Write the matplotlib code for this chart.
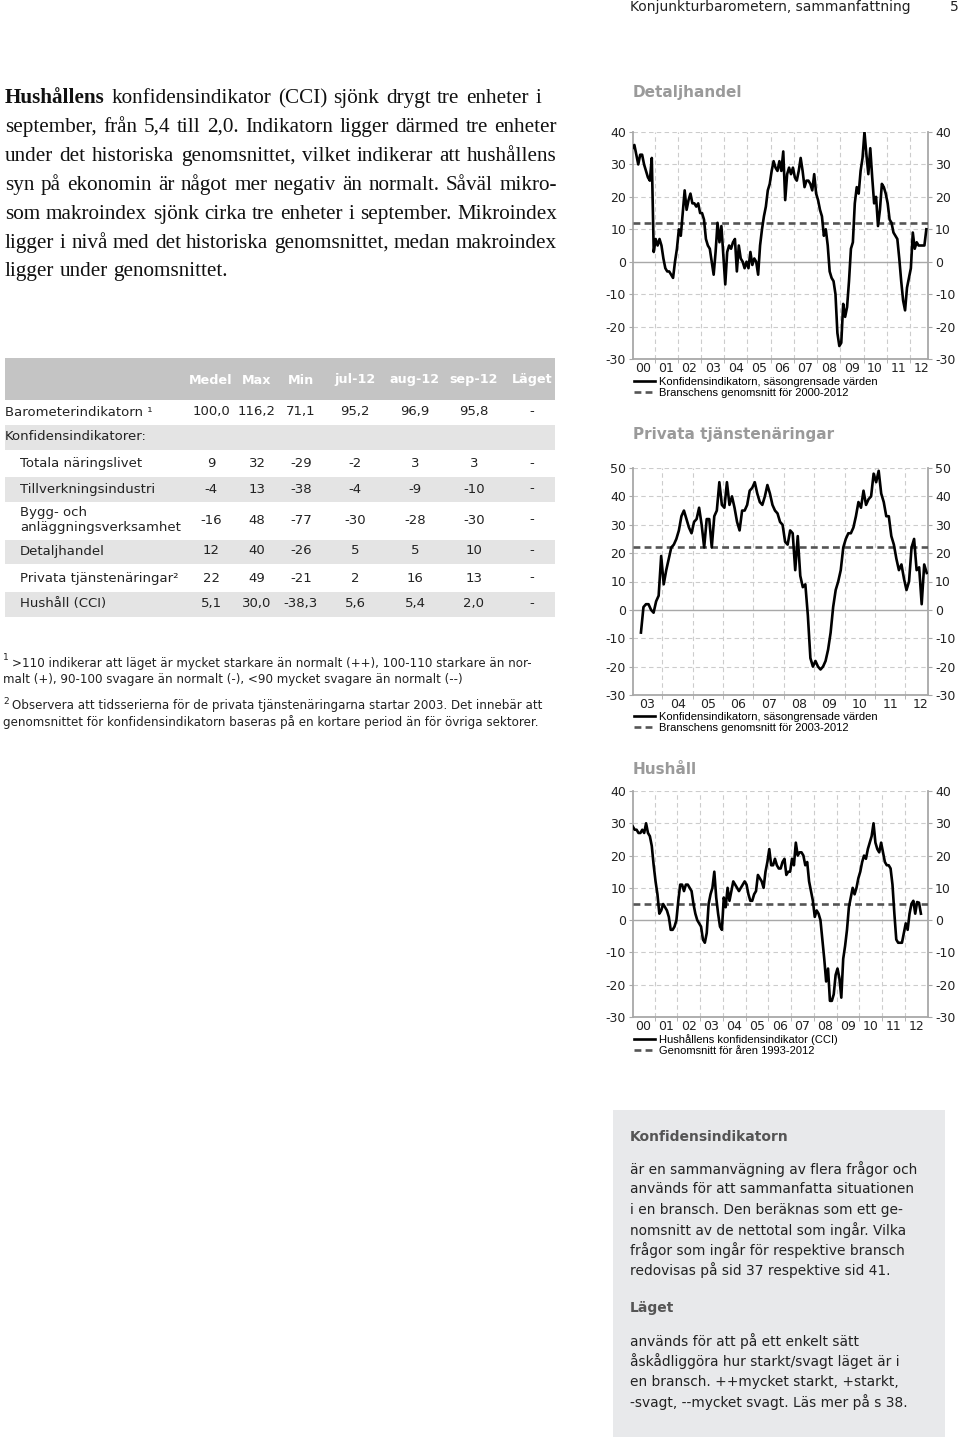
import numpy as np
import matplotlib
matplotlib.use("Agg")
from matplotlib import pyplot as plt
from matplotlib.patches import Rectangle

W, H = 960, 1443

# ---- data ----
# Detaljhandel, monthly jan 2000 - sep 2012
detalj_start = (2000, 1)
detalj = [
    35, 36, 33, 30, 33, 33, 30, 28, 26, 25, 32, 3,      # 2000
    7, 5, 7, 5, 1, -2, -3, -3, -4, -5, 0, 4,            # 2001
    10, 8, 15, 22, 16, 19, 21, 18, 18, 17, 18, 15,      # 2002
    15, 13, 7, 5, 4, 0, -4, 3, 12, 6, 11, 2,            # 2003
    -7, 3, 5, 4, 6, 7, -3, 5, 1, 0, -2, 0,              # 2004
    -2, 3, -1, 1, 0, -4, 5, 10, 14, 17, 22, 24,         # 2005
    28, 31, 29, 28, 31, 28, 34, 19, 27, 29, 27, 29,     # 2006
    26, 25, 28, 32, 28, 23, 25, 25, 24, 22, 27, 21,     # 2007
    19, 16, 14, 8, 10, 5, -3, -5, -6, -10, -22, -26,    # 2008
    -25, -13, -17, -14, -6, 4, 6, 18, 23, 21, 28, 32,   # 2009
    40, 33, 27, 35, 26, 18, 20, 11, 16, 24, 23, 21,     # 2010
    18, 13, 12, 9, 8, 7, 1, -6, -12, -15, -8, -5,       # 2011
    -2, 9, 4, 6, 5, 5, 5, 5, 10,                        # 2012
]
detalj_avg = 12

# Privata tjänstenäringar, monthly apr 2003 - sep 2012
priv_start = (2003, 4)
priv = [
    -8, 1, 2, 2, 0, -1, 3, 5, 19,                       # 2003
    9, 14, 18, 22, 23, 25, 28, 33, 35, 32, 29, 27,      # 2004
    31, 32, 36, 30, 22, 32, 32, 22, 33, 35, 45, 37,     # 2005
    36, 45, 37, 40, 36, 31, 28, 35, 35, 37, 42, 43,     # 2006
    45, 41, 38, 37, 40, 44, 41, 37, 35, 34, 31, 30,     # 2007
    24, 23, 28, 27, 14, 26, 12, 8, 9, -2, -17, -20,     # 2008
    -18, -20, -21, -20, -18, -14, -8, 1, 7, 10, 14, 22, # 2009
    25, 27, 27, 29, 33, 38, 36, 42, 37, 39, 40, 48,     # 2010
    45, 49, 41, 38, 33, 33, 26, 23, 18, 14, 16, 11,     # 2011
    7, 10, 22, 25, 14, 15, 2, 16, 13,                   # 2012
]
priv_avg = 22

# Hushåll (CCI), monthly jan 2000 - sep 2012
hush_start = (2000, 1)
hush = [
    29, 28, 28, 27, 27, 28, 27, 30, 27, 26, 23, 17,     # 2000
    12, 8, 2, 3, 5, 4, 3, 1, -3, -3, -2, 0,             # 2001
    6, 11, 11, 9, 11, 11, 10, 9, 5, 2, 0, -1,           # 2002
    -2, -6, -7, -4, 5, 8, 10, 15, 7, 2, -2, -3,         # 2003
    7, 4, 10, 6, 9, 12, 11, 10, 9, 10, 11, 12,          # 2004
    11, 8, 6, 6, 8, 9, 14, 13, 12, 10, 15, 18,          # 2005
    22, 17, 17, 19, 17, 16, 16, 18, 19, 14, 15, 15,     # 2006
    19, 17, 24, 20, 21, 21, 20, 17, 18, 12, 9, 6,       # 2007
    1, 3, 2, 0, -6, -12, -19, -15, -25, -25, -23, -17,  # 2008
    -15, -18, -24, -12, -8, -3, 4, 7, 10, 8, 10, 13,    # 2009
    15, 18, 20, 19, 22, 24, 26, 30, 24, 22, 21, 24,     # 2010
    21, 18, 17, 17, 16, 11, 2, -6, -7, -7, -7, -4,      # 2011
    -1, -3, 2, 5, 6, 2, 5.6, 5.4, 2.0,                  # 2012
]
hush_avg = 5.1

# table
col_heads = ["Medel", "Max", "Min", "jul-12", "aug-12", "sep-12", "Läget"]
row_names = ["Barometerindikatorn \u00b9", "Konfidensindikatorer:", "Totala näringslivet",
             "Tillverkningsindustri", "Bygg- och\nanläggningsverksamhet", "Detaljhandel",
             "Privata tjänstenäringar\u00b2", "Hushåll (CCI)"]
row_vals = [
    ["100,0", "116,2", "71,1", "95,2", "96,9", "95,8", "-"],
    [],
    ["9", "32", "-29", "-2", "3", "3", "-"],
    ["-4", "13", "-38", "-4", "-9", "-10", "-"],
    ["-16", "48", "-77", "-30", "-28", "-30", "-"],
    ["12", "40", "-26", "5", "5", "10", "-"],
    ["22", "49", "-21", "2", "16", "13", "-"],
    ["5,1", "30,0", "-38,3", "5,6", "5,4", "2,0", "-"],
]

paragraph = [
    "konfidensindikator (CCI) sjönk drygt tre enheter i",
    "september, från 5,4 till 2,0. Indikatorn ligger därmed tre enheter",
    "under det historiska genomsnittet, vilket indikerar att hushållens",
    "syn på ekonomin är något mer negativ än normalt. Såväl mikro-",
    "som makroindex sjönk cirka tre enheter i september. Mikroindex",
    "ligger i nivå med det historiska genomsnittet, medan makroindex",
    "ligger under genomsnittet.",
]

box_text1 = ["är en sammanvägning av flera frågor och",
             "används för att sammanfatta situationen",
             "i en bransch. Den beräknas som ett ge-",
             "nomsnitt av de nettotal som ingår. Vilka",
             "frågor som ingår för respektive bransch",
             "redovisas på sid 37 respektive sid 41."]
box_text2 = ["används för att på ett enkelt sätt",
             "åskådliggöra hur starkt/svagt läget är i",
             "en bransch. ++mycket starkt, +starkt,",
             "-svagt, --mycket svagt. Läs mer på s 38."]

fig = plt.figure(figsize=(W / 100, H / 100), dpi=100)
renderer = fig.canvas.get_renderer()


def fx(x):
    return x / W


def fy(y):
    return 1 - y / H


def txt(x, y, s, **kw):
    kw.setdefault("va", "center")
    kw.setdefault("family", "DejaVu Sans")
    return fig.text(fx(x), fy(y), s, **kw)


def justify(words, x0, x1, y, stretch=True, **kw):
    # words: list of (word, weight); spreads them between x0 and x1
    items = [fig.text(0, 0, w, fontweight=wt, va="baseline", **kw) for w, wt in words]
    widths = [t.get_window_extent(renderer).width for t in items]
    a = fig.text(0, 0, "a a", **kw)
    b = fig.text(0, 0, "aa", **kw)
    space = a.get_window_extent(renderer).width - b.get_window_extent(renderer).width
    a.remove()
    b.remove()
    gap = space
    if stretch:
        gap = max((x1 - x0 - sum(widths)) / (len(items) - 1), 0.6 * space)
    x = x0
    for t, w in zip(items, widths):
        t.set_position((fx(x), fy(y)))
        x += w + gap


# header
txt(630, 7, "Konjunkturbarometern, sammanfattning", fontsize=10, color="#222")
txt(950, 7, "5", fontsize=10, color="#222")

# paragraph
serif = dict(family="Liberation Serif", fontsize=15.2, color="#111")
baselines = [103, 132, 161, 190, 219, 248, 276]
right_edges = [541, 557, 557, 557, 557, 557, None]
for i, line in enumerate(paragraph):
    words = [(w, "normal") for w in line.split(" ")]
    if i == 0:
        words = [("Hushållens", "bold")] + words
    if right_edges[i] is None:
        justify(words, 5, 0, baselines[i], stretch=False, **serif)
    else:
        justify(words, 5, right_edges[i], baselines[i], **serif)

# table
fig.add_artist(Rectangle((fx(5), fy(400)), fx(550), 42 / H, transform=fig.transFigure,
                         color="#c4c4c4", lw=0))
col_x = [211, 257, 301, 355, 415, 474, 532]
for cx, head in zip(col_x, col_heads):
    txt(cx, 380, head, fontsize=9.2, color="white", fontweight="bold", ha="center")

row_y = [412, 437, 464, 489, 520, 551, 578, 604]
bands = [(425, 450), (477, 502), (540, 564), (592, 617)]
for y0, y1 in bands:
    fig.add_artist(Rectangle((fx(5), fy(y1)), fx(550), (y1 - y0) / H,
                             transform=fig.transFigure, color="#e4e4e4", lw=0))
for i, (name, vals) in enumerate(zip(row_names, row_vals)):
    indent = 5 if i < 2 else 20
    txt(indent, row_y[i], name, fontsize=9.5, color="#222", linespacing=1.15)
    for cx, v in zip(col_x, vals):
        txt(cx, row_y[i], v, fontsize=9.5, color="#222", ha="center")

# footnotes
foot = dict(fontsize=8.6, color="#222")
txt(3, 658, "1", fontsize=6.5, color="#222")
txt(12, 663, ">110 indikerar att läget är mycket starkare än normalt (++), 100-110 starkare än nor-", **foot)
txt(3, 680, "malt (+), 90-100 svagare än normalt (-), <90 mycket svagare än normalt (--)", **foot)
txt(3, 701, "2", fontsize=6.5, color="#222")
txt(12, 706, "Observera att tidsserierna för de privata tjänstenäringarna startar 2003. Det innebär att", **foot)
txt(3, 722, "genomsnittet för konfidensindikatorn baseras på en kortare period än för övriga sektorer.", **foot)


# charts
def chart(top, bottom, title, title_y, start, values, avg, ylim, xlim, first_year, last_year,
          labels, leg_top):
    ax = fig.add_axes([fx(633), fy(bottom), (928 - 633) / W, (bottom - top) / H])
    n = np.arange(len(values))
    x = start[0] + (start[1] - 1 + n + 0.5) / 12
    line, = ax.plot(x, values, color="black", lw=1.9, zorder=4)
    avg_line = ax.axhline(avg, color="#555555", lw=1.9, dashes=(2.6, 1.6), zorder=3)
    ax.axhline(0, color="#a8a8a8", lw=1.0, zorder=2)
    ax.set_xlim(*xlim)
    ax.set_ylim(*ylim)
    yt = np.arange(ylim[0], ylim[1] + 1, 10)
    ax.set_yticks(yt)
    ax.set_yticklabels([str(v) for v in yt])
    years = np.arange(first_year, last_year + 1)
    ax.set_xticks(years + 0.5)
    ax.set_xticklabels(["%02d" % (y % 100) for y in years])
    ax.set_xticks(np.arange(first_year + 1, last_year + 1), minor=True)
    ax.tick_params(axis="x", which="major", length=0, labelsize=9, pad=2, labelcolor="#222")
    ax.tick_params(axis="x", which="minor", length=3, color="#a8a8a8")
    ax.tick_params(axis="y", left=True, right=True, labelleft=True, labelright=True,
                   length=3, color="#a8a8a8", labelsize=9, pad=2, labelcolor="#222")
    for yv in yt[1:]:
        if yv != 0:
            ax.axhline(yv, color="#cccccc", lw=0.8, dashes=(4, 3), zorder=1)
    for xv in np.arange(first_year + 1, last_year + 1):
        ax.axvline(xv, color="#cccccc", lw=0.8, dashes=(4, 3), zorder=1)
    for side in ["left", "right", "bottom"]:
        ax.spines[side].set_color("#a8a8a8")
        ax.spines[side].set_linewidth(1.3)
    ax.spines["top"].set_visible(False)
    txt(633, title_y, title, fontsize=11, fontweight="bold", color="#9a9a9a")
    ax.legend([line, avg_line], labels, loc="upper left",
              bbox_to_anchor=(fx(634), fy(leg_top)), bbox_transform=fig.transFigure,
              frameon=False, borderpad=0, borderaxespad=0, handlelength=1.9,
              handletextpad=0.35, labelspacing=0.1,
              prop={"family": "Liberation Sans", "size": 8})
    return ax


chart(132, 359, "Detaljhandel", 93, detalj_start, detalj, detalj_avg, (-30, 40),
      (2000.065, 2012.78), 2000, 2012,
      ["Konfidensindikatorn, säsongrensade värden", "Branschens genomsnitt för 2000-2012"], 377)
chart(468, 695, "Privata tjänstenäringar", 434, priv_start, priv, priv_avg, (-30, 50),
      (2003.03, 2012.75), 2003, 2012,
      ["Konfidensindikatorn, säsongrensade värden", "Branschens genomsnitt för 2003-2012"], 712)
chart(791, 1017, "Hushåll", 769, hush_start, hush, hush_avg, (-30, 40),
      (2000.05, 2013.02), 2000, 2012,
      ["Hushållens konfidensindikator (CCI)", "Genomsnitt för åren 1993-2012"], 1034)

# info box
fig.add_artist(Rectangle((fx(613), fy(1437)), (945 - 613) / W, (1437 - 1110) / H,
                         transform=fig.transFigure, color="#e8e9eb", lw=0))
txt(630, 1137, "Konfidensindikatorn", fontsize=10, fontweight="bold", color="#555")
for i, s in enumerate(box_text1):
    txt(630, 1169 + i * 20.3, s, fontsize=9.9, color="#222")
txt(630, 1308, "Läget", fontsize=10, fontweight="bold", color="#555")
for i, s in enumerate(box_text2):
    txt(630, 1341 + i * 20.3, s, fontsize=9.9, color="#222")

fig.savefig("out.png", dpi=100)
